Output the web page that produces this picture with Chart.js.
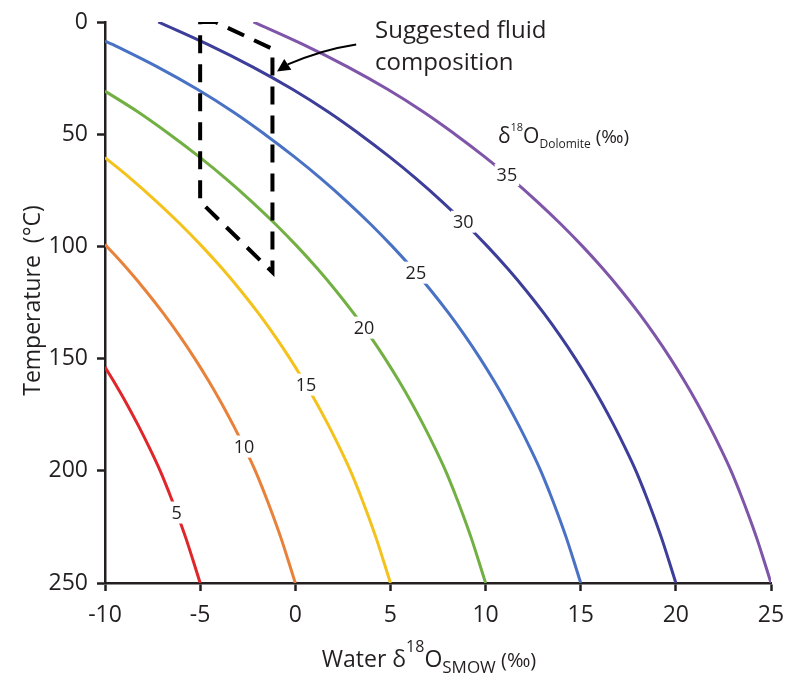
<!DOCTYPE html>
<html>
<head>
<meta charset="utf-8">
<title>Dolomite - water oxygen isotope curves</title>
<script src="https://cdn.jsdelivr.net/npm/chart.js@4.4.1/dist/chart.umd.min.js"></script>
<style>
  html, body { margin: 0; padding: 0; background: #fff; }
  canvas { display: block; }
</style>
</head>
<body>
<canvas id="fluid-chart" width="785" height="674"></canvas>
<script>
// temperatures (°C) the curves were read at
const temps = [0, 10, 20, 30, 40, 50, 60, 70, 80, 90, 100, 110, 120, 130, 140, 150, 160, 170, 180, 190, 200, 210, 220, 230, 240, 250];

// water d18O (‰ SMOW) per dolomite value, null = left of the -10 axis
const water5  = [null, null, null, null, null, null, null, null, null, null, null, null, null, null, null, null,
                 -9.55, -8.87, -8.24, -7.65, -7.1, -6.62, -6.17, -5.75, -5.37, -5.0];
const water10 = [null, null, null, null, null, null, null, null, null, null,
                 -9.9, -8.83, -7.84, -6.92, -6.07, -5.28, -4.55, -3.87, -3.24, -2.65, -2.1, -1.62, -1.17, -0.75, -0.37, 0.0];
const water15 = [null, null, null, null, null, null, null,
                 -8.62, -7.29, -6.05, -4.9, -3.83, -2.84, -1.92, -1.07, -0.28, 0.45, 1.13, 1.76, 2.35, 2.9, 3.38, 3.83, 4.25, 4.63, 5.0];
const water20 = [null, null, null, null,
                 -8.28, -6.61, -5.06, -3.62, -2.29, -1.05, 0.1, 1.17, 2.16, 3.08, 3.93, 4.72, 5.45, 6.13, 6.76, 7.35, 7.9, 8.38, 8.83, 9.25, 9.63, 10.0];
const water25 = [null,
                 -9.6, -7.25, -5.15, -3.28, -1.61, -0.06, 1.38, 2.71, 3.95, 5.1, 6.17, 7.16, 8.08, 8.93, 9.72, 10.45, 11.13, 11.76, 12.35, 12.9, 13.38, 13.83, 14.25, 14.63, 15.0];
const water30 = [-7.2, -4.6, -2.25, -0.15, 1.72, 3.39, 4.94, 6.38, 7.71, 8.95, 10.1, 11.17, 12.16, 13.08, 13.93, 14.72, 15.45, 16.13, 16.76, 17.35, 17.9, 18.38, 18.83, 19.25, 19.63, 20.0];
const water35 = [-2.2, 0.4, 2.75, 4.85, 6.72, 8.39, 9.94, 11.38, 12.71, 13.95, 15.1, 16.17, 17.16, 18.08, 18.93, 19.72, 20.45, 21.13, 21.76, 22.35, 22.9, 23.38, 23.83, 24.25, 24.63, 25.0];

const dolomiteValues = [5, 10, 15, 20, 25, 30, 35];
// temperature where each curve comes in from the left axis (x = -10)
const edgeTemps = [153.8, 99.1, 60.4, 30.8, 8.5, null, null];

// suggested fluid composition outline
const boxWater = [-5, -4.2, -1.2, -1.2, -5, -5];
const boxTemps = [0, 0, 12, 111.5, 80, 0];

const xTicks = [-10, -5, 0, 5, 10, 15, 20, 25];
const yTicks = [0, 50, 100, 150, 200, 250];

const curveColors = ['#e0262b', '#e8823a', '#f4c21c', '#72b043', '#4a72c4', '#3d3d9a', '#7e55a8'];
const labelTemps = [218.6, 189.2, 161.6, 136.2, 111.7, 89, 68.2];

const inkColor = '#231f20';
const fontFamily = "'Open Sans', 'DejaVu Sans', sans-serif";

Chart.defaults.font.family = fontFamily;
Chart.defaults.color = inkColor;

function curvePoints(water, edgeT) {
    const pts = [];
    if (edgeT !== null) pts.push({x: -10, y: edgeT});
    water.forEach((w, i) => {
        if (w !== null) pts.push({x: w, y: temps[i]});
    });
    return pts;
}

const allWater = [water5, water10, water15, water20, water25, water30, water35];

let datasets = [{
    label: 'Suggested fluid composition',
    data: boxWater.map((w, i) => ({x: w, y: boxTemps[i]})),
    borderColor: '#000',
    borderWidth: 4,
    borderDash: [18, 11],
    borderJoinStyle: 'miter',
    tension: 0,
    pointRadius: 0,
    fill: false,
}];

for (let i = 0; i < dolomiteValues.length; i++) {
    datasets.push({
        label: String(dolomiteValues[i]),
        data: curvePoints(allWater[i], edgeTemps[i]),
        borderColor: curveColors[i],
        borderWidth: 3,
        pointRadius: 0,
        fill: false,
        tension: 0.4,
    });
}

// write text made of parts with their own size and vertical shift
function drawParts(ctx, x, y, parts, align) {
    let total = 0;
    parts.forEach(p => {
        ctx.font = p.size + 'px ' + fontFamily;
        p.w = ctx.measureText(p.t).width;
        total += p.w;
    });
    let cx = (align === 'center') ? x - total / 2 : x;
    ctx.textAlign = 'left';
    ctx.textBaseline = 'alphabetic';
    parts.forEach(p => {
        ctx.font = p.size + 'px ' + fontFamily;
        ctx.fillText(p.t, cx, y + (p.dy || 0));
        cx += p.w;
    });
}

// numbers sitting in gaps of the curves
const curveLabels = {
    id: 'curveLabels',
    afterDatasetsDraw(chart) {
        const ctx = chart.ctx,
            xs = chart.scales.x,
            ys = chart.scales.y;
        ctx.save();
        ctx.font = '18px ' + fontFamily;
        ctx.textAlign = 'center';
        ctx.textBaseline = 'middle';
        for (let i = 0; i < dolomiteValues.length; i++) {
            const pts = chart.data.datasets[i + 1].data,
                t = labelTemps[i];
            let wx = pts[0].x;
            for (let k = 1; k < pts.length; k++) {
                if (pts[k].y >= t) {
                    const a = pts[k - 1], b = pts[k];
                    wx = a.x + (b.x - a.x) * (t - a.y) / (b.y - a.y);
                    break;
                }
            }
            const px = xs.getPixelForValue(wx),
                py = ys.getPixelForValue(t),
                txt = String(dolomiteValues[i]),
                w = ctx.measureText(txt).width;
            ctx.fillStyle = '#fff';
            ctx.fillRect(px - w / 2 - 2, py - 11, w + 4, 22);
            ctx.fillStyle = inkColor;
            ctx.fillText(txt, px, py + 1);
        }
        ctx.restore();
    }
};

// titles, note and arrow
const annotations = {
    id: 'annotations',
    afterDraw(chart) {
        const ctx = chart.ctx,
            xs = chart.scales.x,
            ys = chart.scales.y,
            area = chart.chartArea;
        const px = v => xs.getPixelForValue(v),
            py = v => ys.getPixelForValue(v);

        ctx.save();
        ctx.fillStyle = inkColor;
        ctx.strokeStyle = '#000';

        // x title
        drawParts(ctx, (area.left + area.right) / 2 - 9, 667, [
            {t: 'Water δ', size: 23},
            {t: '18', size: 16, dy: -15},
            {t: 'O', size: 23},
            {t: 'SMOW', size: 17, dy: 6},
            {t: ' (‰)', size: 20},
        ], 'center');

        // y title
        ctx.save();
        ctx.translate(40, (area.top + area.bottom) / 2 - 2);
        ctx.rotate(-Math.PI / 2);
        ctx.font = '23px ' + fontFamily;
        ctx.textAlign = 'center';
        ctx.textBaseline = 'alphabetic';
        ctx.fillText('Temperature  (°C)', 0, 0);
        ctx.restore();

        // legend title for the curves
        drawParts(ctx, px(10.65), py(53.8), [
            {t: 'δ', size: 21},
            {t: '18', size: 11, dy: -12},
            {t: 'O', size: 21},
            {t: 'Dolomite', size: 12, dy: 5},
            {t: ' (‰)', size: 19},
        ], 'left');

        // note
        ctx.font = '24px ' + fontFamily;
        ctx.textAlign = 'left';
        ctx.textBaseline = 'alphabetic';
        ctx.fillText('Suggested fluid', px(4.19), py(7.2));
        ctx.fillText('composition', px(4.19), py(21.3));

        // arrow to the box
        const sx = px(3.2), sy = py(10),
            cx = px(1.4), cy = py(12.3),
            tx = px(-0.96), ty = py(22.1);
        const bx = tx + 13 * 0.83, by = ty - 13 * 0.55;
        ctx.lineWidth = 2;
        ctx.beginPath();
        ctx.moveTo(sx, sy);
        ctx.quadraticCurveTo(cx, cy, bx, by);
        ctx.stroke();
        const dx = tx - bx, dy = ty - by, len = Math.hypot(dx, dy),
            nx = -dy / len, ny = dx / len;
        ctx.fillStyle = '#000';
        ctx.beginPath();
        ctx.moveTo(tx, ty);
        ctx.lineTo(bx + nx * 6.5, by + ny * 6.5);
        ctx.lineTo(bx - nx * 6.5, by - ny * 6.5);
        ctx.closePath();
        ctx.fill();

        ctx.restore();
    }
};

const ctx = document.querySelector('#fluid-chart');

const chart = new Chart(ctx.getContext('2d'), {
    type: 'line',
    data: { datasets: datasets },
    options: {
        responsive: false,
        animation: false,
        devicePixelRatio: 1,
        layout: {
            padding: { left: 0, top: 22, right: 14, bottom: 0 }
        },
        scales: {
            x: {
                type: 'linear',
                min: -10,
                max: 25,
                afterBuildTicks: scale => { scale.ticks = xTicks.map(v => ({value: v})); },
                afterFit: scale => {
                    scale.height = 91;
                    // labels at the ends may hang past the axis
                    scale.paddingLeft = 0;
                    scale.paddingRight = 0;
                },
                border: { display: true, color: inkColor, width: 2.5 },
                grid: {
                    drawOnChartArea: false,
                    drawTicks: true,
                    tickLength: 8,
                    tickWidth: 2.5,
                    tickColor: inkColor,
                },
                ticks: {
                    padding: 11,
                    color: inkColor,
                    font: { size: 23 },
                    maxRotation: 0,
                }
            },
            y: {
                type: 'linear',
                reverse: true,
                min: 0,
                max: 250,
                afterBuildTicks: scale => { scale.ticks = yTicks.map(v => ({value: v})); },
                afterFit: scale => {
                    scale.width = 105;
                    scale.paddingTop = 0;
                    scale.paddingBottom = 0;
                },
                border: { display: true, color: inkColor, width: 2.5 },
                grid: {
                    drawOnChartArea: false,
                    drawTicks: true,
                    tickLength: 8,
                    tickWidth: 2.5,
                    tickColor: inkColor,
                },
                ticks: {
                    padding: 9,
                    color: inkColor,
                    font: { size: 23 },
                }
            }
        },
        plugins: {
            legend: { display: false },
            tooltip: { enabled: false },
        }
    },
    plugins: [curveLabels, annotations]
});
</script>
</body>
</html>
